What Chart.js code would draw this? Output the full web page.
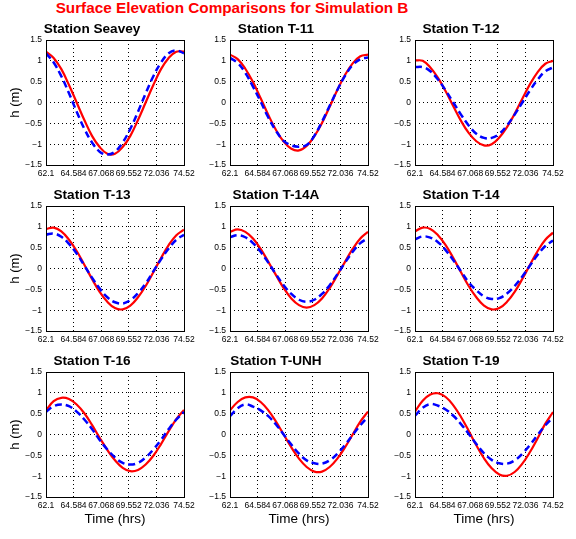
<!DOCTYPE html>
<html lang="en">
<head>
<meta charset="UTF-8">
<title>Surface Elevation Comparisons for Simulation B</title>
<script src="https://cdn.jsdelivr.net/npm/chart.js@4.4.1/dist/chart.umd.min.js"></script>
<style>
  body { margin: 0; background: #fff; }
  #page { position: relative; width: 576px; height: 539px; overflow: hidden; background: #fff;
          font-family: "Liberation Sans", Arial, Helvetica, sans-serif; }
  #mainTitle { position: absolute; left: 0; top: -1px; width: 464px; text-align: center;
               color: #ff0000; font-weight: bold; font-size: 15.3px; line-height: 17px; }
  canvas { position: absolute; }
</style>
</head>
<body>
<div id="page">
  <div id="mainTitle">Surface Elevation Comparisons for Simulation B</div>
</div>
<script>
// time samples (hrs) shared by every station
const times = [62.1, 62.79, 63.48, 64.17, 64.86, 65.55, 66.24, 66.93, 67.62, 68.31,
               69.0, 69.69, 70.38, 71.07, 71.76, 72.45, 73.14, 73.83, 74.52];

const xTicks = [62.1, 64.584, 67.068, 69.552, 72.036, 74.52];
const xTickLabels = ['62.1', '64.584', '67.068', '69.552', '72.036', '74.52'];
const yTicks = [-1.5, -1, -0.5, 0, 0.5, 1, 1.5];
const yTickLabels = ['\u22121.5', '\u22121', '\u22120.5', '0', '0.5', '1', '1.5'];

const stations = ['Station Seavey', 'Station T-11', 'Station T-12',
                  'Station T-13', 'Station T-14A', 'Station T-14',
                  'Station T-16', 'Station T-UNH', 'Station T-19'];

// red solid = observed, blue dashed = simulated (h in m)
const seaveyObs = [1.22, 1.07, 0.80, 0.42, 0.00, -0.42, -0.80, -1.07, -1.23, -1.23, -1.07, -0.80, -0.42, 0.00, 0.42, 0.80, 1.07, 1.22, 1.22];
const seaveySim = [1.18, 0.96, 0.63, 0.22, -0.22, -0.63, -0.96, -1.18, -1.25, -1.18, -0.96, -0.63, -0.22, 0.22, 0.63, 0.96, 1.18, 1.25, 1.18];

const t11Obs = [1.15, 1.04, 0.81, 0.49, 0.10, -0.30, -0.66, -0.94, -1.11, -1.15, -1.04, -0.81, -0.49, -0.10, 0.30, 0.66, 0.94, 1.11, 1.15];
const t11Sim = [1.07, 0.95, 0.71, 0.38, 0.02, -0.36, -0.68, -0.92, -1.03, -1.06, -1.02, -0.80, -0.46, -0.08, 0.30, 0.64, 0.90, 1.04, 1.08];

const t12Obs = [1.01, 1.00, 0.84, 0.59, 0.27, -0.09, -0.44, -0.73, -0.93, -1.03, -1.00, -0.84, -0.59, -0.27, 0.09, 0.44, 0.73, 0.93, 1.00];
const t12Sim = [0.85, 0.85, 0.75, 0.55, 0.29, 0.00, -0.29, -0.55, -0.75, -0.85, -0.85, -0.75, -0.55, -0.29, 0.00, 0.29, 0.55, 0.75, 0.84];

const t13Obs = [0.95, 0.98, 0.89, 0.69, 0.42, 0.09, -0.25, -0.56, -0.80, -0.95, -0.98, -0.89, -0.69, -0.42, -0.09, 0.25, 0.56, 0.80, 0.93];
const t13Sim = [0.81, 0.84, 0.76, 0.59, 0.36, 0.07, -0.22, -0.48, -0.69, -0.81, -0.84, -0.76, -0.59, -0.36, -0.07, 0.22, 0.48, 0.69, 0.81];

const t14aObs = [0.88, 0.94, 0.88, 0.72, 0.47, 0.16, -0.16, -0.47, -0.72, -0.88, -0.94, -0.88, -0.72, -0.47, -0.16, 0.16, 0.47, 0.72, 0.88];
const t14aSim = [0.75, 0.80, 0.75, 0.61, 0.40, 0.14, -0.14, -0.40, -0.61, -0.75, -0.80, -0.75, -0.61, -0.40, -0.14, 0.14, 0.40, 0.61, 0.73];

const t14Obs = [0.89, 0.98, 0.95, 0.80, 0.56, 0.25, -0.09, -0.42, -0.69, -0.89, -0.98, -0.95, -0.80, -0.56, -0.25, 0.09, 0.42, 0.69, 0.86];
const t14Sim = [0.70, 0.77, 0.74, 0.63, 0.44, 0.20, -0.07, -0.33, -0.52, -0.67, -0.73, -0.71, -0.60, -0.42, -0.19, 0.07, 0.33, 0.54, 0.67];

const t16Obs = [0.58, 0.80, 0.88, 0.85, 0.72, 0.51, 0.23, -0.08, -0.37, -0.62, -0.80, -0.88, -0.85, -0.72, -0.51, -0.23, 0.08, 0.37, 0.59];
const t16Sim = [0.54, 0.68, 0.72, 0.68, 0.55, 0.36, 0.13, -0.13, -0.36, -0.55, -0.68, -0.72, -0.68, -0.55, -0.36, -0.13, 0.13, 0.36, 0.54];

const tunhObs = [0.58, 0.78, 0.89, 0.89, 0.78, 0.58, 0.31, 0.00, -0.31, -0.58, -0.78, -0.89, -0.89, -0.78, -0.58, -0.31, 0.00, 0.31, 0.55];
const tunhSim = [0.44, 0.63, 0.72, 0.67, 0.58, 0.44, 0.24, 0.00, -0.24, -0.46, -0.62, -0.69, -0.70, -0.62, -0.46, -0.25, -0.01, 0.22, 0.43];

const t19Obs = [0.55, 0.81, 0.96, 0.99, 0.90, 0.70, 0.42, 0.09, -0.26, -0.57, -0.81, -0.96, -0.99, -0.90, -0.70, -0.42, -0.09, 0.26, 0.54];
const t19Sim = [0.45, 0.64, 0.73, 0.69, 0.60, 0.45, 0.25, 0.02, -0.23, -0.45, -0.61, -0.69, -0.70, -0.62, -0.46, -0.25, -0.01, 0.22, 0.41];

const observed = [seaveyObs, t11Obs, t12Obs, t13Obs, t14aObs, t14Obs, t16Obs, tunhObs, t19Obs];
const simulated = [seaveySim, t11Sim, t12Sim, t13Sim, t14aSim, t14Sim, t16Sim, tunhSim, t19Sim];

// layout of the 3x3 grid (plot-area corners in page pixels)
const colLeft = [46, 230, 415];
const rowTop = [40, 206, 372];
const PLOT_W = 138, PLOT_H = 125;
const Y_AXIS_W = 46, TITLE_H = 22, RIGHT_PAD = 16;
const FONT = '"Liberation Sans", Arial, Helvetica, sans-serif';

Chart.defaults.font.family = FONT;
Chart.defaults.color = '#000';

// solid box around the plot area, like the matlab axes
const frame = {
  id: 'frame',
  afterDraw(chart) {
    const { ctx, chartArea: a } = chart;
    const x0 = Math.round(a.left - 0.5) + 0.5, x1 = Math.round(a.right - 0.5) + 0.5;
    const y0 = Math.round(a.top - 0.5) + 0.5, y1 = Math.round(a.bottom - 0.5) + 0.5;
    ctx.save();
    ctx.setLineDash([]);
    ctx.strokeStyle = '#000';
    ctx.lineWidth = 1;
    ctx.strokeRect(x0, y0, x1 - x0, y1 - y0);
    ctx.restore();
  }
};

const toPoints = arr => arr.map((h, j) => ({ x: times[j], y: h }));
const page = document.getElementById('page');

stations.forEach((name, i) => {
  const col = i % 3, row = Math.floor(i / 3);
  const lastRow = row === 2, firstCol = col === 0;
  const axisH = lastRow ? 32 : 18;

  const canvas = document.createElement('canvas');
  const w = Y_AXIS_W + PLOT_W + RIGHT_PAD, h = TITLE_H + PLOT_H + axisH;
  canvas.width = w; canvas.height = h;
  canvas.style.width = w + 'px'; canvas.style.height = h + 'px';
  canvas.style.left = (colLeft[col] - Y_AXIS_W) + 'px';
  canvas.style.top = (rowTop[row] - TITLE_H) + 'px';
  page.appendChild(canvas);

  new Chart(canvas, {
    type: 'line',
    data: {
      datasets: [{
        label: 'Observed',
        data: toPoints(observed[i]),
        borderColor: '#ff0000',
        borderWidth: 2.2,
        pointRadius: 0,
        tension: 0.4,
        fill: false,
        order: 1
      }, {
        label: 'Simulated',
        data: toPoints(simulated[i]),
        borderColor: '#0000ff',
        borderWidth: 2.5,
        borderDash: [7, 4],
        pointRadius: 0,
        tension: 0.4,
        fill: false,
        order: 0
      }]
    },
    options: {
      responsive: false,
      animation: false,
      events: [],
      layout: { padding: { left: 0, top: 0, right: RIGHT_PAD, bottom: 0 } },
      plugins: {
        legend: { display: false },
        tooltip: { enabled: false },
        title: {
          display: true,
          text: name,
          color: '#000',
          font: { size: 13.6, weight: 'bold', lineHeight: 1.2 },
          padding: { top: 2.84, bottom: 2.84 }
        }
      },
      scales: {
        x: {
          type: 'linear',
          min: 62.1,
          max: 74.52,
          afterBuildTicks: s => { s.ticks = xTicks.map(v => ({ value: v })); },
          afterFit: s => { s.height = axisH; s.paddingLeft = 0; s.paddingRight = 0; },
          ticks: {
            autoSkip: false, maxRotation: 0, minRotation: 0, padding: 4,
            font: { size: 8.5 },
            callback: (v, idx) => xTickLabels[idx]
          },
          grid: { color: '#000', lineWidth: 1, drawTicks: false },
          border: { display: false, dash: [1, 3] },
          title: {
            display: lastRow,
            text: 'Time (hrs)',
            font: { size: 13.5, lineHeight: 1.2 },
            padding: { top: 0, bottom: 1.9 }
          }
        },
        y: {
          min: -1.5,
          max: 1.5,
          afterBuildTicks: s => { s.ticks = yTicks.map(v => ({ value: v })); },
          afterFit: s => { s.width = Y_AXIS_W; s.paddingTop = 0; s.paddingBottom = 0; },
          ticks: {
            autoSkip: false, padding: 4,
            font: { size: 8.5 },
            callback: (v, idx) => yTickLabels[idx]
          },
          grid: { color: '#000', lineWidth: 1, drawTicks: false },
          border: { display: false, dash: [1, 3] },
          title: {
            display: firstCol,
            text: 'h (m)',
            font: { size: 13, lineHeight: 1.2 },
            padding: { top: 7.5, bottom: 0 }
          }
        }
      }
    },
    plugins: [frame]
  });
});
</script>
</body>
</html>
